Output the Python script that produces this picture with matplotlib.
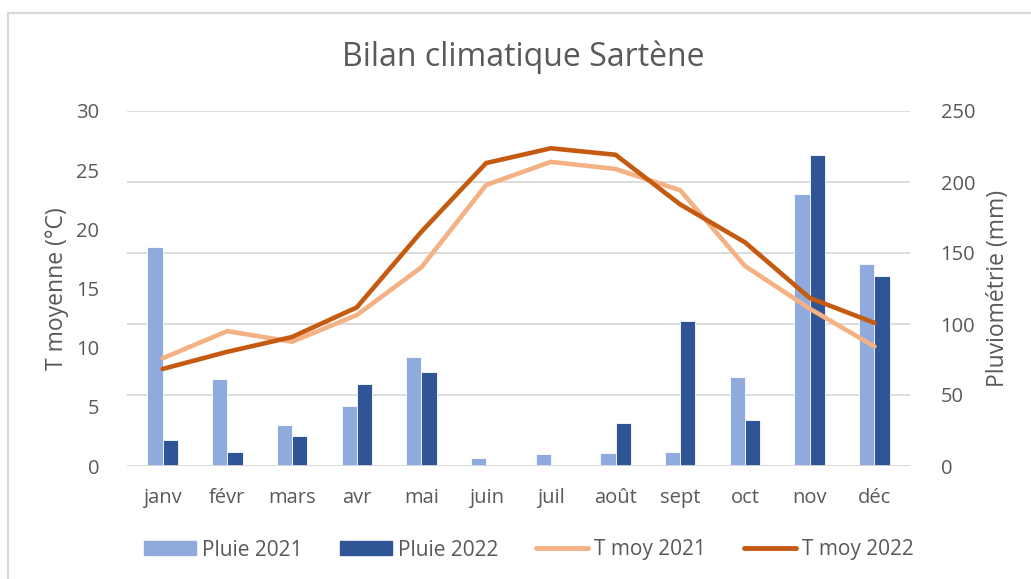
import matplotlib
matplotlib.use("Agg")
import matplotlib.pyplot as plt
import numpy as np
from matplotlib.lines import Line2D

months = ["janv", "févr", "mars", "avr", "mai", "juin", "juil", "août", "sept", "oct", "nov", "déc"]
pluie_2021 = [154, 61, 29, 42, 77, 5.4, 8.2, 9, 10, 63, 191.5, 142]
pluie_2022 = [18, 10, 21, 57.6, 66, 0, 1, 30, 102, 32.4, 219, 134]
tmoy_2021 = [9.1, 11.4, 10.5, 12.75, 16.8, 23.75, 25.7, 25.1, 23.3, 16.9, 13.3, 10.1]
tmoy_2022 = [8.2, 9.65, 10.9, 13.4, 19.8, 25.6, 26.85, 26.3, 22.1, 18.9, 14.2, 12.1]

C_P21 = "#8FAADC"
C_P22 = "#2F5597"
C_T21 = "#F4B183"
C_T22 = "#C55A11"
TXT = "#595959"
GRID = "#D9D9D9"

plt.rcParams['font.family'] = ['Open Sans', 'DejaVu Sans']

fig = plt.figure(figsize=(10.31, 5.79), dpi=100)
ax = fig.add_axes([127/1031, 1-466/579, (910-127)/1031, (466-111)/579])
ax2 = ax.twinx()

x = np.arange(len(months))
w = 0.235
ax.set_zorder(ax2.get_zorder() + 1)
ax.patch.set_visible(False)

ax2.bar(x - w/2, pluie_2021, width=w, color=C_P21, edgecolor="white", linewidth=0.6, label="Pluie 2021")
ax2.bar(x + w/2, pluie_2022, width=w, color=C_P22, edgecolor="white", linewidth=0.6, label="Pluie 2022")
ax.plot(x, tmoy_2021, color=C_T21, lw=3.3, solid_capstyle="round", solid_joinstyle="miter", label="T moy 2021")
ax.plot(x, tmoy_2022, color=C_T22, lw=3.3, solid_capstyle="round", solid_joinstyle="miter", label="T moy 2022")

ax.set_xlim(-0.55, 11.55)
ax.set_ylim(0, 30)
ax2.set_ylim(0, 250)
ax.set_yticks(range(0, 31, 5))
ax2.set_yticks(range(0, 251, 50))
ax.set_xticks(x)
ax.set_xticklabels(months)

for a in (ax, ax2):
    for s in a.spines.values():
        s.set_visible(False)
    a.tick_params(length=0, labelsize=14.5, colors=TXT)
ax.tick_params(axis="y", pad=20)
ax2.tick_params(axis="y", pad=22)
ax.tick_params(axis="x", pad=15.5)

ax2.grid(axis="y", color=GRID, lw=1.3)
ax2.set_axisbelow(True)
ax.axhline(0, color=GRID, lw=1.3, zorder=0)

ax.set_ylabel("T moyenne (°C)", fontsize=16.5, color=TXT, labelpad=5)
ax2.set_ylabel("Pluviométrie (mm)", fontsize=16.5, color=TXT, rotation=90, labelpad=8)

fig.text(0.508, 1-57/579, "Bilan climatique Sartène", ha="center", va="center", fontsize=23, color=TXT)

handles = [
    plt.Rectangle((0, 0), 1, 1, color=C_P21),
    plt.Rectangle((0, 0), 1, 1, color=C_P22),
    Line2D([0], [0], color=C_T21, lw=3.5, solid_capstyle="round"),
    Line2D([0], [0], color=C_T22, lw=3.5, solid_capstyle="round"),
]
labels = ["Pluie 2021", "Pluie 2022", "T moy 2021", "T moy 2022"]
leg = fig.legend(handles, labels, loc="center", bbox_to_anchor=(0.513, 1-550/579), ncol=4,
                 frameon=False, fontsize=15, handlelength=2.5, handleheight=0.62,
                 handletextpad=0.29, columnspacing=1.8, labelcolor=TXT)

# outer chart border (top and left visible)
fig.add_artist(Line2D([8/1031, 8/1031], [0, 1-13/579], color=GRID, lw=1.5, transform=fig.transFigure))
fig.add_artist(Line2D([8/1031, 1], [1-13/579, 1-13/579], color=GRID, lw=1.5, transform=fig.transFigure))

fig.savefig("out.png", dpi=100)
